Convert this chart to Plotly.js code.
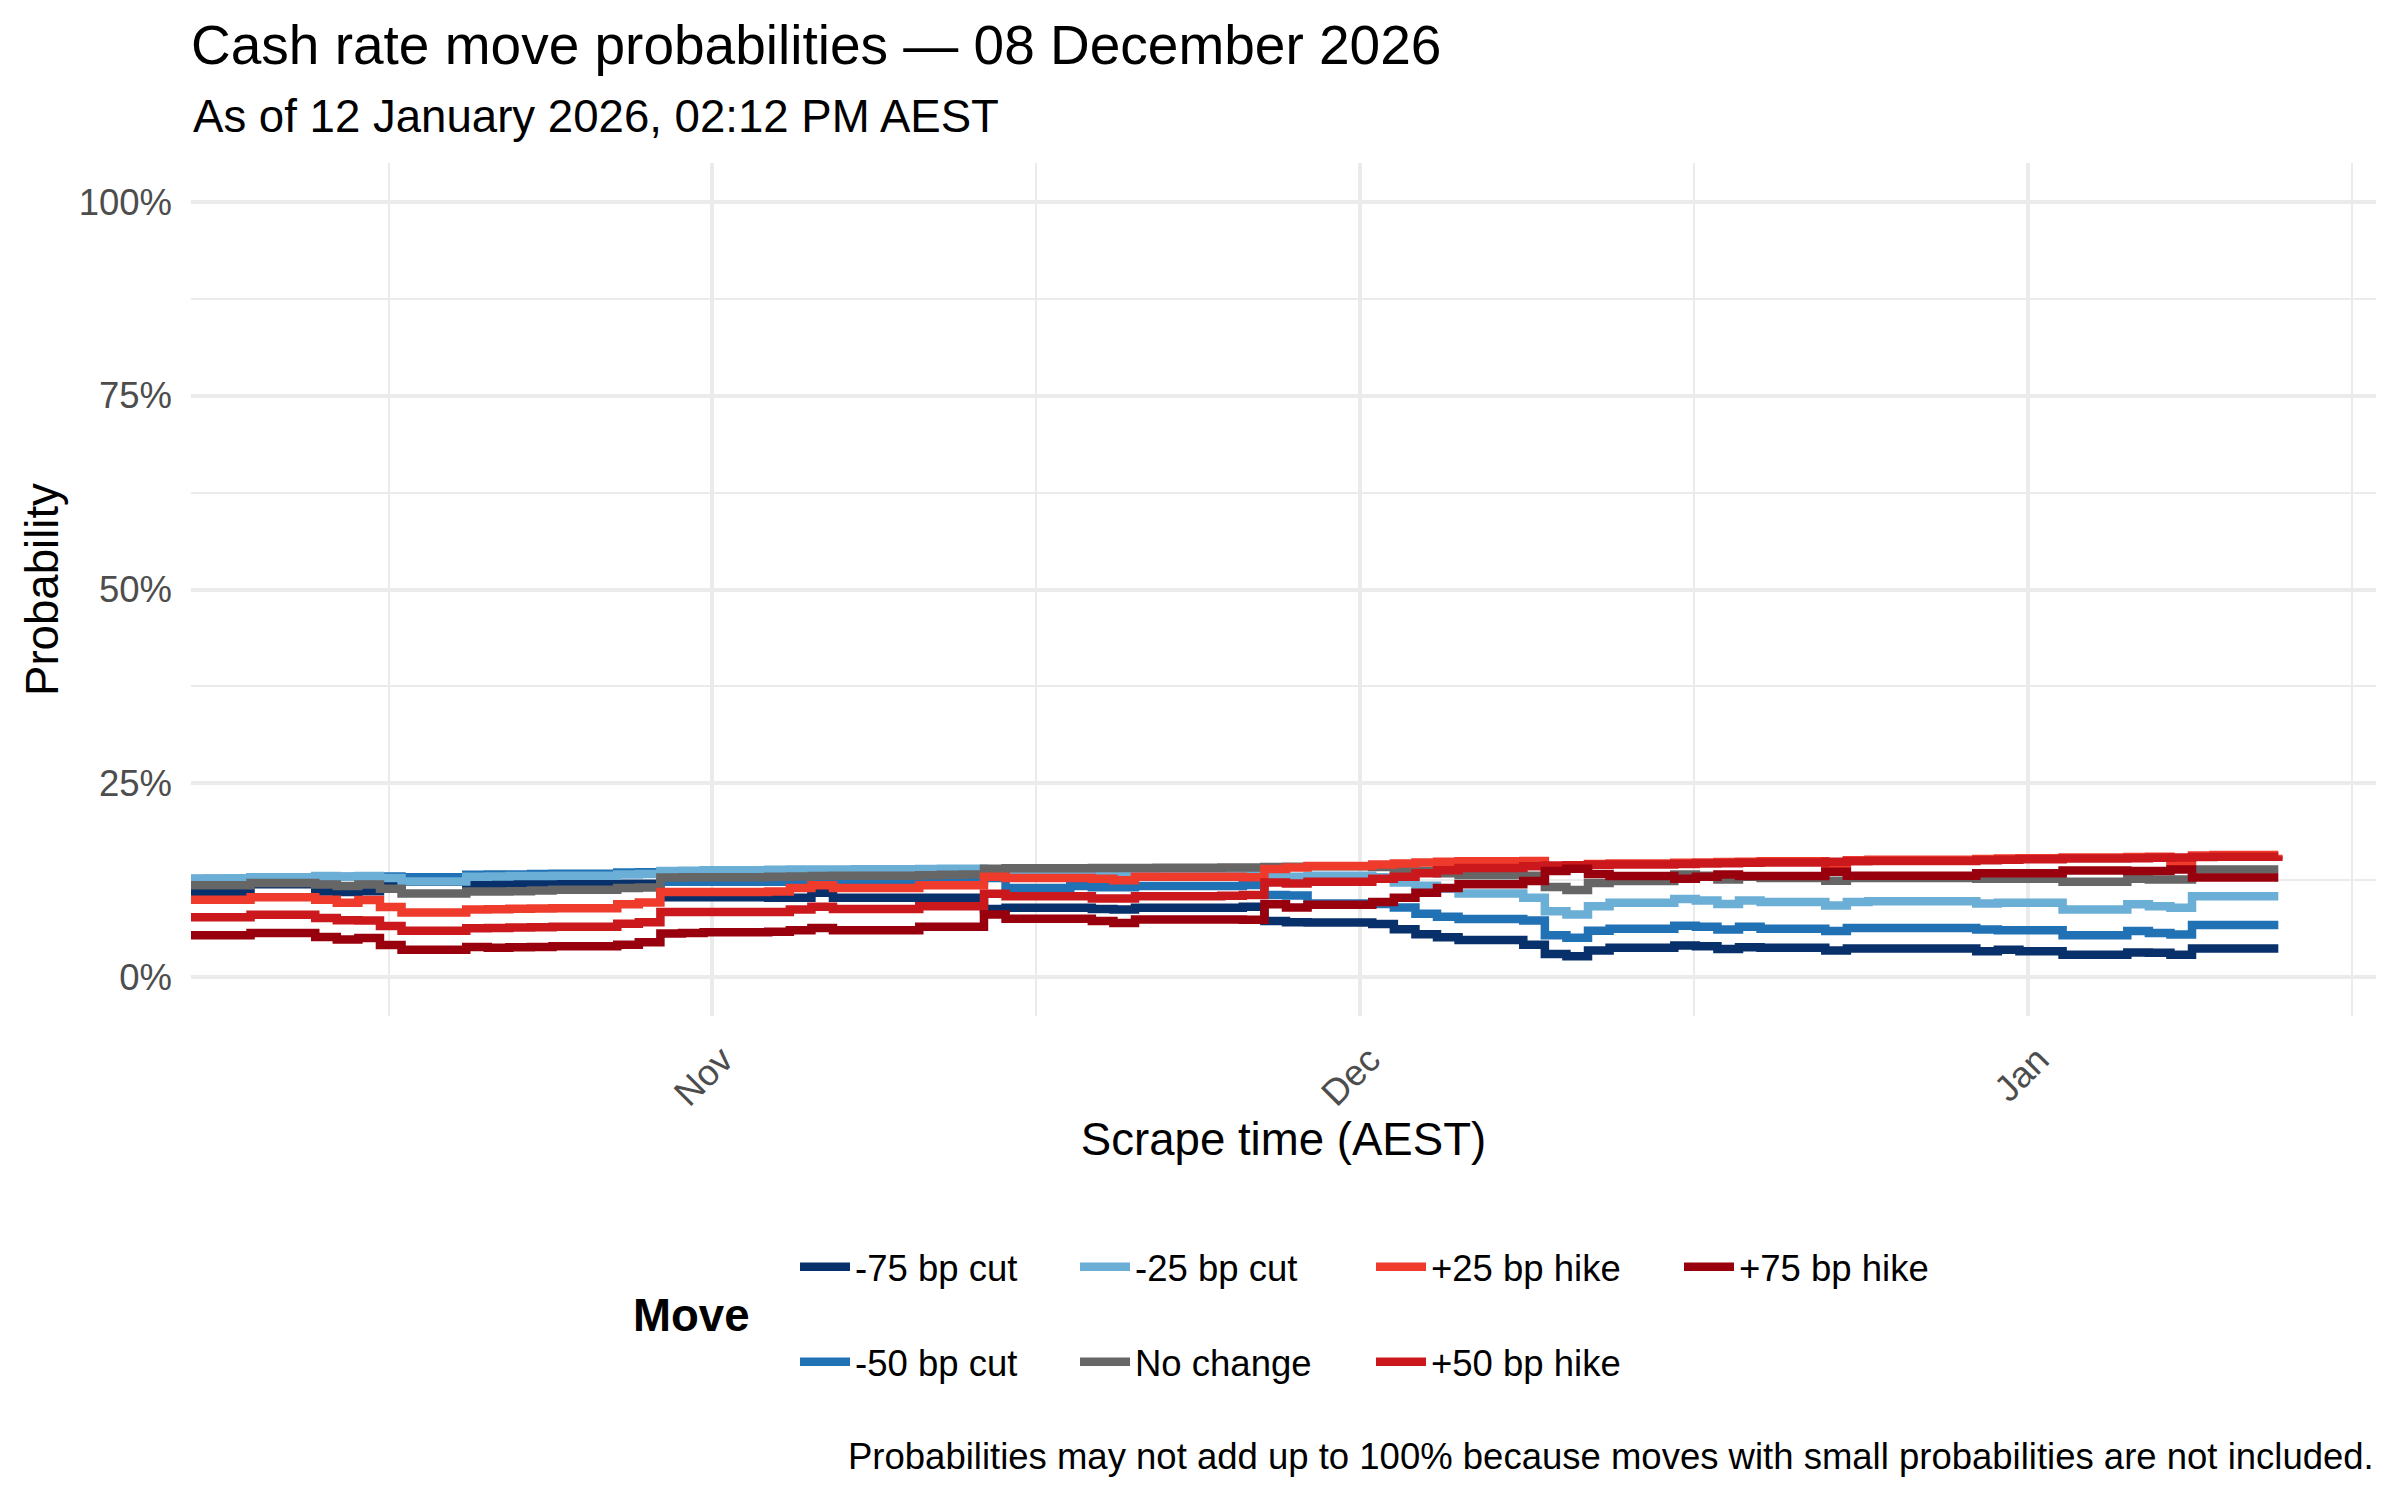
<!DOCTYPE html>
<html>
<head>
<meta charset="utf-8">
<script src="https://cdn.plot.ly/plotly-3.0.1.min.js"></script>
<style>
  html, body { margin: 0; padding: 0; background: #ffffff; }
  #chart { width: 2400px; height: 1500px; }
</style>
</head>
<body>
<div id="chart"></div>
<script>
// ---------------- data ----------------
const scrapeTimes = [
  '2025-10-07 14:12','2025-10-08 14:12','2025-10-09 14:12','2025-10-10 14:12',
  '2025-10-13 14:12','2025-10-14 14:12','2025-10-15 14:12','2025-10-16 14:12','2025-10-17 14:12',
  '2025-10-20 14:12','2025-10-21 14:12','2025-10-22 14:12','2025-10-23 14:12','2025-10-24 14:12',
  '2025-10-27 14:12','2025-10-28 14:12','2025-10-29 14:12','2025-10-30 14:12','2025-10-31 14:12',
  '2025-11-03 14:12','2025-11-04 14:12','2025-11-05 14:12','2025-11-06 14:12','2025-11-07 14:12',
  '2025-11-10 14:12','2025-11-11 14:12','2025-11-12 14:12','2025-11-13 14:12','2025-11-14 14:12',
  '2025-11-17 14:12','2025-11-18 14:12','2025-11-19 14:12','2025-11-20 14:12','2025-11-21 14:12',
  '2025-11-24 14:12','2025-11-25 14:12','2025-11-26 14:12','2025-11-27 14:12','2025-11-28 14:12',
  '2025-12-01 14:12','2025-12-02 14:12','2025-12-03 14:12','2025-12-04 14:12','2025-12-05 14:12',
  '2025-12-08 14:12','2025-12-09 14:12','2025-12-10 14:12','2025-12-11 14:12','2025-12-12 14:12',
  '2025-12-15 14:12','2025-12-16 14:12','2025-12-17 14:12','2025-12-18 14:12','2025-12-19 14:12',
  '2025-12-22 14:12','2025-12-23 14:12','2025-12-24 14:12',
  '2025-12-29 14:12','2025-12-30 14:12','2025-12-31 14:12',
  '2026-01-02 14:12',
  '2026-01-05 14:12','2026-01-06 14:12','2026-01-07 14:12','2026-01-08 14:12','2026-01-09 14:12',
  '2026-01-12 14:12'
];

// probabilities in percent, one value per scrape time
const cut75 = [
  11.0, 11.0, 11.0, 12.0,
  11.05, 11.0, 11.1, 11.8, 12.3,
  12.05, 12.05, 12.05, 12.05, 12.05,
  12.05, 12.05, 10.3, 10.3, 10.3,
  10.25, 10.25, 10.9, 10.25, 10.25,
  10.25, 10.25, 10.25, 8.8, 8.95,
  8.95, 8.8, 8.75, 8.95, 8.95,
  8.95, 9.1, 7.25, 7.1, 7.05,
  6.85, 6.2, 5.55, 5.15, 4.8,
  4.2, 3.0, 2.7, 3.45, 3.8,
  4.1, 4.0, 3.65, 3.85, 3.8,
  3.45, 3.7, 3.7,
  3.35, 3.55, 3.35,
  2.9,
  3.2, 3.15, 2.9, 3.7, 3.7,
  3.7
];
const cut50 = [
  12.7, 12.7, 12.7, 12.85,
  13.0, 12.95, 13.0, 13.0, 12.9,
  13.2, 13.25, 13.25, 13.3, 13.35,
  13.5, 13.55, 12.3, 12.3, 12.3,
  12.3, 12.4, 12.4, 12.4, 12.4,
  12.4, 12.4, 12.4, 12.8, 11.5,
  11.75, 11.6, 11.6, 11.75, 11.75,
  11.75, 11.9, 10.6, 10.55, 9.5,
  9.45, 9.0, 8.2, 7.8, 7.5,
  7.3, 5.4, 5.1, 6.0, 6.25,
  6.65, 6.5, 6.15, 6.5, 6.25,
  5.95, 6.35, 6.35,
  6.15, 6.05, 6.05,
  5.4,
  5.95, 5.7, 5.5, 6.75, 6.75,
  6.75
];
const cut25 = [
  12.65, 12.7, 12.75, 12.9,
  13.05, 12.95, 13.05, 12.8, 12.35,
  12.95, 13.0, 13.05, 13.05, 13.08,
  13.25, 13.3, 13.7, 13.72, 13.8,
  13.85, 13.9, 13.9, 13.9, 13.92,
  13.95, 13.98, 14.0, 13.85, 13.65,
  13.65, 13.6, 13.55, 13.65, 13.65,
  13.65, 13.65, 13.05, 12.95, 13.1,
  12.9, 12.2, 11.8, 11.4, 10.8,
  10.25, 8.5, 8.1, 9.15, 9.6,
  10.1, 9.9, 9.45, 9.9, 9.7,
  9.25, 9.7, 9.8,
  9.5, 9.6, 9.6,
  8.75,
  9.4, 9.15, 8.95, 10.45, 10.45,
  10.45
];
const noChange = [
  11.85, 11.85, 11.85, 12.15,
  11.95, 11.75, 11.95, 11.4, 10.8,
  11.05, 11.05, 11.1, 11.2, 11.27,
  11.5, 11.57, 12.85, 12.88, 12.9,
  12.95, 13.0, 13.05, 13.1, 13.1,
  13.15, 13.2, 13.25, 14.0, 14.05,
  14.05, 14.1, 14.1, 14.1, 14.12,
  14.15, 14.15, 14.2, 14.25, 14.3,
  14.2, 14.0, 13.7, 13.4, 13.15,
  13.1, 11.65, 11.25, 12.15, 12.4,
  13.25, 13.1, 12.6, 12.95, 12.8,
  12.45, 12.8, 12.8,
  12.7, 12.7, 12.7,
  12.3,
  12.7, 12.6, 12.6, 13.9, 13.9,
  13.9
];
const hike25 = [
  10.0, 10.0, 10.0, 10.3,
  10.0, 9.6, 9.95, 9.05, 8.35,
  8.75, 8.78, 8.82, 8.86, 8.9,
  9.4, 9.65, 11.0, 11.0, 11.0,
  11.05, 11.5, 11.85, 11.5, 11.5,
  11.85, 11.85, 11.85, 12.95, 12.8,
  12.8, 12.7, 12.5, 12.95, 12.95,
  12.95, 12.9, 13.95, 14.15, 14.35,
  14.55, 14.65, 14.8, 14.9, 14.95,
  15.0, 14.1, 14.1, 14.6, 14.65,
  14.75, 14.8, 14.85, 14.9, 14.95,
  14.6, 15.1, 15.15,
  15.25, 15.3, 15.35,
  15.45,
  15.5, 15.55, 14.85, 15.7, 15.75,
  15.8
];
const hike50 = [
  7.75, 7.75, 7.75, 8.05,
  7.65, 7.35, 7.3, 6.62, 5.98,
  6.32, 6.36, 6.4, 6.45, 6.5,
  6.9, 7.1, 8.4, 8.4, 8.4,
  8.4, 8.75, 9.1, 8.8, 8.8,
  9.15, 9.15, 9.15, 10.75, 10.45,
  10.45, 10.15, 10.15, 10.45, 10.45,
  10.5, 10.6, 12.2, 12.1, 12.3,
  12.7, 12.95, 13.4, 13.8, 14.1,
  14.3, 14.4, 14.45, 14.5, 14.55,
  14.6, 14.65, 14.7, 14.75, 14.8,
  14.9, 14.95, 15.0,
  15.1, 15.15, 15.2,
  15.3,
  15.35, 15.4, 15.45, 15.5, 15.55,
  15.6
];
const hike75 = [
  5.4, 5.4, 5.4, 5.7,
  5.2, 4.85, 5.05, 4.15, 3.55,
  3.9, 3.8, 3.85, 3.9, 4.0,
  4.2, 4.5, 5.65, 5.7, 5.8,
  5.85, 6.05, 6.35, 6.05, 6.05,
  6.5, 6.5, 6.5, 8.1, 7.55,
  7.55, 7.25, 7.0, 7.45, 7.45,
  7.45, 7.4, 9.4, 9.0, 9.35,
  9.7, 10.25, 10.9, 11.5, 12.0,
  12.4, 13.7, 14.0, 13.3, 13.05,
  12.7, 12.95, 13.25, 13.05, 13.05,
  13.6, 13.1, 13.1,
  13.4, 13.4, 13.4,
  13.75,
  13.7, 13.7, 13.9, 12.85, 12.85,
  12.85
];

const moveNames = ['-75 bp cut', '-50 bp cut', '-25 bp cut', 'No change', '+25 bp hike', '+50 bp hike', '+75 bp hike'];
const moveSeries = [cut75, cut50, cut25, noChange, hike25, hike50, hike75];
const moveColors = ['#08306B', '#2171B5', '#6BAED6', '#666666', '#EF3B2C', '#CB181D', '#99000D'];

const monthTickVals = ['2025-11-01', '2025-12-01', '2026-01-01'];
const monthTickText = ['Nov', 'Dec', 'Jan'];
const minorDateVals = ['2025-10-17', '2025-11-16', '2025-12-16 12:00', '2026-01-16'];
const probTickVals = [0, 25, 50, 75, 100];
const probTickText = ['0%', '25%', '50%', '75%', '100%'];
const probMinorVals = [12.5, 37.5, 62.5, 87.5];

const titleText = 'Cash rate move probabilities \u2014 08 December 2026';
const subtitleText = 'As of 12 January 2026, 02:12 PM AEST';
const yTitleText = 'Probability';
const xTitleText = 'Scrape time (AEST)';
const legendTitleText = 'Move';
const captionText = 'Probabilities may not add up to 100% because moves with small probabilities are not included.';

// ---------------- layout helpers ----------------
const W = 2400, H = 1500;
const M = { l: 191, r: 24, t: 163, b: 484 };
const plotH = H - M.t - M.b;
const plotW = W - M.l - M.r;
const pyPaper = (px) => (H - M.b - px) / plotH;   // pixel y -> paper y
const pxPaper = (px) => (px - M.l) / plotW;       // pixel x -> paper x

// legend slot positions (legend box left x, row centre y), in pixels
const legendSlots = [
  [795, 1267], [795, 1362],
  [1075, 1267], [1075, 1362],
  [1371, 1267], [1371, 1362],
  [1679, 1267]
];

const FONT = 'Liberation Sans, Arial, Helvetica, sans-serif';

const traces = moveNames.map((name, i) => ({
  type: 'scatter',
  mode: 'lines',
  name: name,
  x: scrapeTimes,
  y: moveSeries[i],
  line: { color: moveColors[i], width: 8.5, shape: 'hv' },
  legend: 'legend' + (i + 2),
  hoverinfo: 'skip'
}));

const layout = {
  width: W,
  height: H,
  margin: { l: M.l, r: M.r, t: M.t, b: M.b, autoexpand: false },
  paper_bgcolor: '#ffffff',
  plot_bgcolor: '#ffffff',
  font: { family: FONT, color: '#000000', size: 36.5 },
  hovermode: false,
  title: {
    text: titleText,
    font: { family: FONT, size: 55, color: '#000000' },
    xref: 'container', x: M.l / W, xanchor: 'left',
    yref: 'container', y: 1 - 45 / H, yanchor: 'middle'
  },
  xaxis: {
    type: 'date',
    range: ['2025-10-07 19:58', '2026-01-17 02:53'],
    tickmode: 'array',
    tickvals: monthTickVals,
    ticktext: monthTickText,
    tickangle: -45,
    tickfont: { family: FONT, size: 36.5, color: '#4D4D4D' },
    ticks: '',
    ticklabelstandoff: 14,
    ticklabelshift: 10,
    showgrid: true,
    gridcolor: '#EBEBEB',
    gridwidth: 4,
    zeroline: false,
    showline: false,
    minor: { tickmode: 'array', tickvals: minorDateVals, showgrid: true, gridcolor: '#EBEBEB', gridwidth: 2, ticks: '' },
    title: { text: xTitleText, font: { family: FONT, size: 45.6, color: '#000000' }, standoff: 2 }
  },
  yaxis: {
    range: [-5, 105],
    tickmode: 'array',
    tickvals: probTickVals,
    ticktext: probTickText,
    tickfont: { family: FONT, size: 36.5, color: '#4D4D4D' },
    ticks: '',
    ticklabelstandoff: 18,
    showgrid: true,
    gridcolor: '#EBEBEB',
    gridwidth: 4,
    zeroline: false,
    showline: false,
    minor: { tickmode: 'array', tickvals: probMinorVals, showgrid: true, gridcolor: '#EBEBEB', gridwidth: 2, ticks: '' },
    title: { text: '' }
  },
  showlegend: true,
  annotations: [
    {
      text: subtitleText, showarrow: false,
      xref: 'paper', yref: 'paper', x: 0, xanchor: 'left',
      y: pyPaper(116), yanchor: 'middle',
      font: { family: FONT, size: 45.6, color: '#000000' }
    },
    {
      text: yTitleText, showarrow: false, textangle: -90,
      xref: 'paper', yref: 'paper', x: pxPaper(42), xanchor: 'center',
      y: pyPaper(590), yanchor: 'middle',
      font: { family: FONT, size: 45.6, color: '#000000' }
    },
    {
      text: '<b>' + legendTitleText + '</b>', showarrow: false,
      xref: 'paper', yref: 'paper', x: pxPaper(631), xanchor: 'left',
      y: pyPaper(1315), yanchor: 'middle',
      font: { family: FONT, size: 45.6, color: '#000000' }
    },
    {
      text: captionText, showarrow: false,
      xref: 'paper', yref: 'paper', x: 1, xanchor: 'right',
      y: pyPaper(1456), yanchor: 'middle',
      font: { family: FONT, size: 36.5, color: '#000000' }
    }
  ]
};

legendSlots.forEach((slot, i) => {
  layout['legend' + (i + 2)] = {
    xref: 'container', yref: 'container',
    x: slot[0] / W, xanchor: 'left',
    y: 1 - slot[1] / H, yanchor: 'middle',
    orientation: 'v',
    bgcolor: 'rgba(0,0,0,0)',
    borderwidth: 0,
    itemwidth: 50,
    font: { family: FONT, size: 36.5, color: '#000000' }
  };
});

Plotly.newPlot('chart', traces, layout, { displayModeBar: false, staticPlot: true });
</script>
</body>
</html>
